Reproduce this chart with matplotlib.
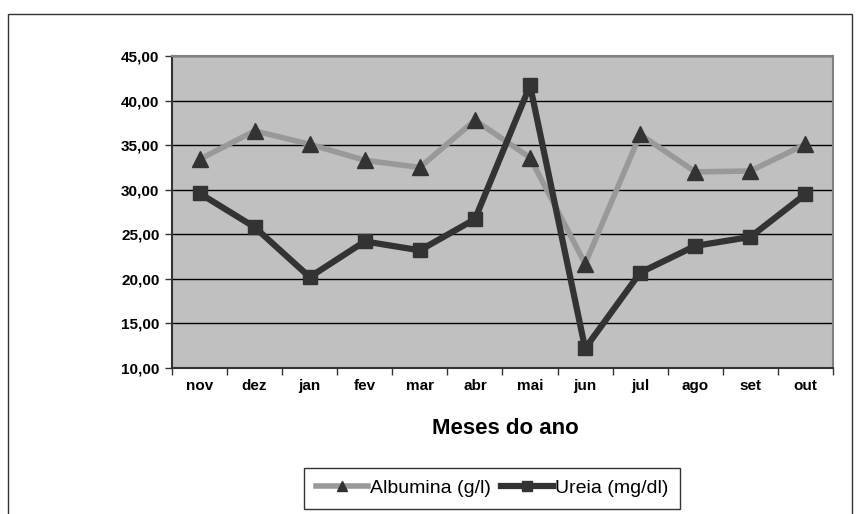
import matplotlib.pyplot as plt
from matplotlib.patches import Rectangle
import numpy as np

plt.rcParams['font.family'] = ['Liberation Sans', 'DejaVu Sans']

# Monthly means
meses = ['nov', 'dez', 'jan', 'fev', 'mar', 'abr', 'mai', 'jun', 'jul', 'ago', 'set', 'out']
albumina = [33.4, 36.6, 35.1, 33.3, 32.5, 37.8, 33.6, 21.7, 36.2, 32.0, 32.1, 35.1]
ureia = [29.6, 25.8, 20.2, 24.2, 23.2, 26.7, 41.7, 12.2, 20.7, 23.7, 24.7, 29.5]
yticks = [10, 15, 20, 25, 30, 35, 40, 45]

W, H = 862, 514
fig = plt.figure(figsize=(W / 100, H / 100), dpi=100)
ax = fig.add_axes([172 / W, 1 - 368 / H, (833 - 172) / W, (368 - 56) / H])
ax.set_facecolor('#c0c0c0')

x = np.arange(len(meses))
ax.plot(x, albumina, color='#999999', lw=4, marker='^', ms=11,
        mfc='#333333', mec='#333333', label='Albumina (g/l)', zorder=3)
ax.plot(x, ureia, color='#333333', lw=4.5, marker='s', ms=10,
        mfc='#333333', mec='#333333', label='Ureia (mg/dl)', zorder=4)

ax.set_xlim(-0.5, len(meses) - 0.5)
ax.set_ylim(10, 45)
ax.set_yticks(yticks)
ax.set_yticklabels([f'{v:.2f}'.replace('.', ',') for v in yticks],
                   fontsize=11, fontweight='bold')
ax.yaxis.grid(True, color='black', lw=1)
ax.set_axisbelow(True)

# category labels between boundary tick marks
ax.set_xticks(np.arange(-0.5, len(meses), 1))
ax.set_xticklabels([])
ax.set_xticks(x, minor=True)
ax.set_xticklabels(meses, minor=True, fontsize=11, fontweight='bold')
ax.tick_params(axis='x', which='minor', length=0, pad=8)
ax.tick_params(axis='x', which='major', length=5, width=1, color='#333333')
ax.tick_params(axis='y', length=5, width=1, color='#333333', pad=4)

for side in ['top', 'right']:
    ax.spines[side].set_color('#808080')
    ax.spines[side].set_linewidth(1.5)
for side in ['left', 'bottom']:
    ax.spines[side].set_color('#333333')
    ax.spines[side].set_linewidth(1.5)

fig.text(505 / W, 1 - 428 / H, 'Meses do ano', ha='center', va='center',
         fontsize=16, fontweight='bold')

# outer chart frame
fig.patches.append(Rectangle((8 / W, -0.2), (852 - 8) / W, 1.2 - 14 / H,
                             transform=fig.transFigure, fill=False,
                             edgecolor='#333333', lw=1, clip_on=False))

leg = fig.legend(loc='upper left', bbox_to_anchor=(304 / W, 1 - 468 / H),
                 bbox_transform=fig.transFigure, ncol=2, fontsize=14,
                 fancybox=False, edgecolor='black', handlelength=2.7,
                 handletextpad=0.1, columnspacing=0.5, borderpad=0.6,
                 borderaxespad=0, markerscale=0.65)
leg.get_frame().set_linewidth(1)

fig.savefig('out.png', dpi=100)
